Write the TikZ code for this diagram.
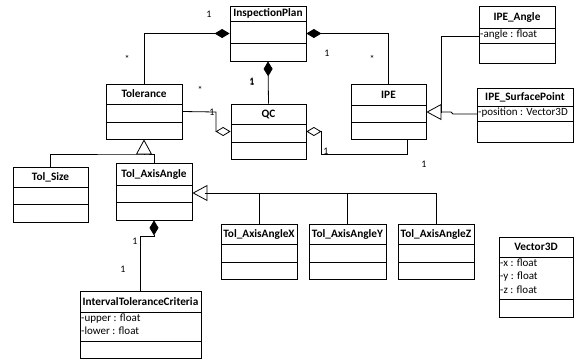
\documentclass[tikz,border=0pt]{standalone}
\usepackage{fontspec}
\setmainfont{Carlito}
\usetikzlibrary{arrows.meta,calc}

\tikzset{
  classbox/.style={draw, line width=0.8pt, inner sep=0pt, fill=white},
  divider/.style={line width=0.8pt},
  titletext/.style={font=\fontsize{11.3}{13}\selectfont\bfseries, inner sep=0pt},
  attrtext/.style={font=\fontsize{11}{13.5}\selectfont, inner xsep=1pt, inner ysep=1.5pt, align=left, anchor=north west},
  link/.style={line width=0.8pt},
  mult/.style={font=\fontsize{10}{12}\selectfont, inner sep=0pt},
  composite/.style={link, -{Diamond[length=15pt,width=9pt]}},
  shared/.style={link, {Diamond[open,length=15pt,width=9pt]}-},
  sharedend/.style={link, -{Diamond[open,length=15pt,width=9pt]}},
  inherit/.style={link, -{Triangle[open,length=15pt,width=16pt]}},
}

% \umlclass{name}{x1}{y1}{x2}{y2}{header bottom}{divider}{title}{attributes}
\newcommand\umlclass[9]{%
  \node[classbox, minimum width={(#4-#2)*1pt}, minimum height={(#5-#3)*1pt}]
    (#1) at ({(#2+#4)/2},{(#3+#5)/2}) {};
  \draw[divider] (#2,#6) -- (#4,#6);
  \draw[divider] (#2,#7) -- (#4,#7);
  \node[titletext] (#1-title) at ({(#2+#4)/2},{(#3+#6)/2}) {#8};
  \node[attrtext] (#1-attr) at (#2,#6) {#9};
}

\begin{document}
\begin{tikzpicture}[x=1pt, y=-1pt]
  \useasboundingbox (0,0) rectangle (574,360);

  % classes
  \umlclass{ip}{230}{6}{306}{61}{21}{43}{InspectionPlan}{}
  \umlclass{tol}{106}{84}{182}{139}{104}{122}{Tolerance}{}
  \umlclass{qc}{231}{104}{306}{159}{124}{142}{QC}{}
  \umlclass{ipe}{351}{84}{426}{139}{105}{122}{IPE}{}
  \umlclass{ipeangle}{479}{6}{555}{63}{28}{43}{IPE\_Angle}{-angle : float}
  \umlclass{ipesp}{477}{88}{573}{142}{106}{121}{IPE\_SurfacePoint}{-position : Vector3D}
  \umlclass{tolsize}{13}{167}{88}{222}{187}{204}{Tol\_Size}{}
  \umlclass{tolaxis}{116}{163}{192}{220}{185}{202}{Tol\_AxisAngle}{}
  \umlclass{tolx}{221}{224}{297}{279}{244}{262}{Tol\_AxisAngleX}{}
  \umlclass{toly}{309}{224}{386}{279}{244}{262}{Tol\_AxisAngleY}{}
  \umlclass{tolz}{398}{224}{474}{279}{244}{262}{Tol\_AxisAngleZ}{}
  \umlclass{itc}{80}{291}{201}{358}{312}{341}{IntervalToleranceCriteria}{-upper : float\\-lower : float}
  \umlclass{vec}{499}{237}{573}{317}{257}{299}{Vector3D}{-x : float\\-y : float\\-z : float}

  % compositions owned by the inspection plan
  \draw[composite] (tol.north) |- (ip.west);
  \draw[composite] (ipe.north) |- (ip.east);
  \draw[composite] (qc.north) -- (ip.south);

  % aggregations into QC
  \coordinate (tolbend) at (216,112);
  \draw[sharedend] (tol.east) -- (tolbend) -- (tolbend |- qc.west) -- (qc.west);
  \coordinate (qcbend) at (321,154);
  \draw[shared] (qc.east) -- (qc.east -| qcbend) -- (qcbend) -| ($(ipe.south)+(18.5,0)$);

  % interval criteria of the axis angle tolerance
  \draw[composite] (itc.north) |- ($(tolaxis.south)+(0,16)$) -- (tolaxis.south);

  % generalizations
  \coordinate (tolfork) at (144,154);
  \draw[inherit] (tolfork) -- (tol.south);
  \draw[link] (tolsize.north) |- (tolfork) -| (tolaxis.north);

  \coordinate (axisfork) at (205,193);
  \draw[inherit] (axisfork) -- (tolaxis.east |- axisfork);
  \draw[link] (axisfork) -| (tolz.north);
  \draw[link] (tolx.north) -- (tolx.north |- axisfork);
  \draw[link] (toly.north) -- (toly.north |- axisfork);

  \coordinate (ipefork) at (441,112);
  \draw[inherit] (ipefork) -- (ipe.east |- ipefork);
  \draw[link] (ipefork) |- (479,36);
  \draw[link] (ipefork) -- (451,112) -- (453,114) -- (477,114);

  % multiplicities
  \node[mult] (m1) at (209,14) {1};
  \node[mult] (m2) at (127,59) {*};
  \node[mult] (m3) at (327,53) {1};
  \node[mult] (m4) at (372,59) {*};
  \node[mult] (m5) at (252,82) {\rlap{\raisebox{1.3pt}{1}}1};
  \node[mult] (m7) at (200,90) {*};
  \node[mult] (m8) at (212,112) {1};
  \node[mult] (m9) at (326,151) {1};
  \node[mult] (m10) at (424,164) {1};
  \node[mult] (m11) at (135,241) {1};
  \node[mult] (m12) at (123,269) {1};
\end{tikzpicture}
\end{document}
